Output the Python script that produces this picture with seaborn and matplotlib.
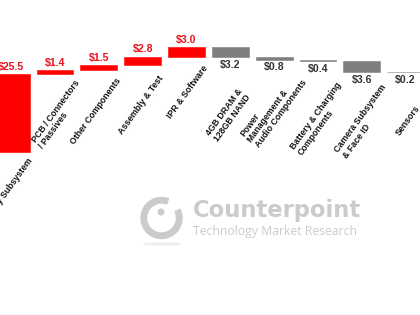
import numpy as np
import pandas as pd
import matplotlib
matplotlib.use("Agg")
import matplotlib.pyplot as plt
from matplotlib.patches import Wedge, Circle, Ellipse
import seaborn as sns

# ---- data ----
categories = ["Display Subsystem", "PCB / Connectors\n/ Passives", "Other Components",
              "Assembly & Test", "IPR & Software", "4GB DRAM &\n128GB NAND",
              "Power\nManagement &\nAudio Components", "Battery & Charging\nComponents",
              "Camera Subsystem\n& Face ID", "Sensors"]
amounts = [25.5, 1.4, 1.5, 2.8, 3.0, 3.2, 0.8, 0.4, 3.6, 0.2]
direction = [1, 1, 1, 1, 1, -1, -1, -1, -1, -1]
value_labels = ["$25.5", "$1.4", "$1.5", "$2.8", "$3.0", "$3.2", "$0.8", "$0.4", "$3.6", "$0.2"]

# ---- layout (label anchors: offset from bar centre, anchor height) ----
label_dx = [0.36, 0.43, 0.38, 0.35, 0.36, 0.155, 0.27, 0.415, 0.44, 0.20]
label_y = [-1.6, 23.9, 24.8, 25.5, 28.8, 21.2, 27.8, 23.2, 22.5, 15.7]

RED = "#FF0000"
GRAY = "#7F7F7F"
RED_TXT = "#E8101A"
GRAY_TXT = "#333333"
WM = "#CBCBCB"

signed = np.array(amounts) * np.array(direction)
tops_after = np.cumsum(signed)
before = tops_after - signed
bottoms = np.minimum(before, tops_after)
tops = np.maximum(before, tops_after)

df = pd.DataFrame({"cat": categories, "h": np.abs(signed)})
colors = [RED if d > 0 else GRAY for d in direction]

sns.set_style("white")
plt.rcParams["font.family"] = ["Liberation Sans", "DejaVu Sans"]

fig = plt.figure(figsize=(4.2, 3.15), dpi=100)
ax = fig.add_axes([0, 0, 1, 1])
sns.barplot(data=df, x="cat", y="h", hue="cat", palette=colors, legend=False,
            width=0.84, saturation=1, ax=ax)
for patch, b, c in zip(ax.patches, bottoms, colors):
    patch.set_y(b)
    patch.set_edgecolor(c)
    patch.set_linewidth(0.4)

ax.set_xlim(-0.256, 9.33)
ax.set_ylim(-53.3, 49.7)
ax.axis("off")

for i, (lab, d) in enumerate(zip(value_labels, direction)):
    if d > 0:
        ax.annotate(lab, (i, tops[i]), xytext=(0, 1.5), textcoords="offset points",
                    ha="center", va="bottom", fontsize=7.6, fontweight="bold", color=RED_TXT)
    else:
        ax.annotate(lab, (i, bottoms[i]), xytext=(0, -2), textcoords="offset points",
                    ha="center", va="top", fontsize=7.6, fontweight="bold", color=GRAY_TXT)

for i, cat in enumerate(categories):
    ax.text(i + label_dx[i], label_y[i], cat, rotation=54, rotation_mode="anchor",
            ha="right", va="top", multialignment="left", fontsize=6.3,
            fontweight="bold", color="#111111", linespacing=1.1)

# ---- watermark ----
tr = fig.dpi_scale_trans
def px(x, y):
    return (x / 100.0, (315 - y) / 100.0)

fig.patches.append(Wedge(px(161.5, 218), 0.205, 70, 385, width=0.055,
                         transform=tr, color=WM, zorder=0))
fig.patches.append(Circle(px(161, 212), 0.028, transform=tr, color=WM, zorder=0))
fig.patches.append(Ellipse(px(162, 244), 0.36, 0.02, transform=tr, color="#EFEFEF", zorder=0))
fig.text(193 / 420, 1 - 217 / 315, "Counterpoint", fontsize=16.3, fontweight="bold",
         family=["DejaVu Sans"], color=WM, ha="left", va="baseline")
fig.text(193 / 420, 1 - 235 / 315, "Technology Market Research", fontsize=8.85,
         family=["Open Sans", "DejaVu Sans"], color=WM, ha="left", va="baseline")

fig.savefig("out.png", dpi=100)
